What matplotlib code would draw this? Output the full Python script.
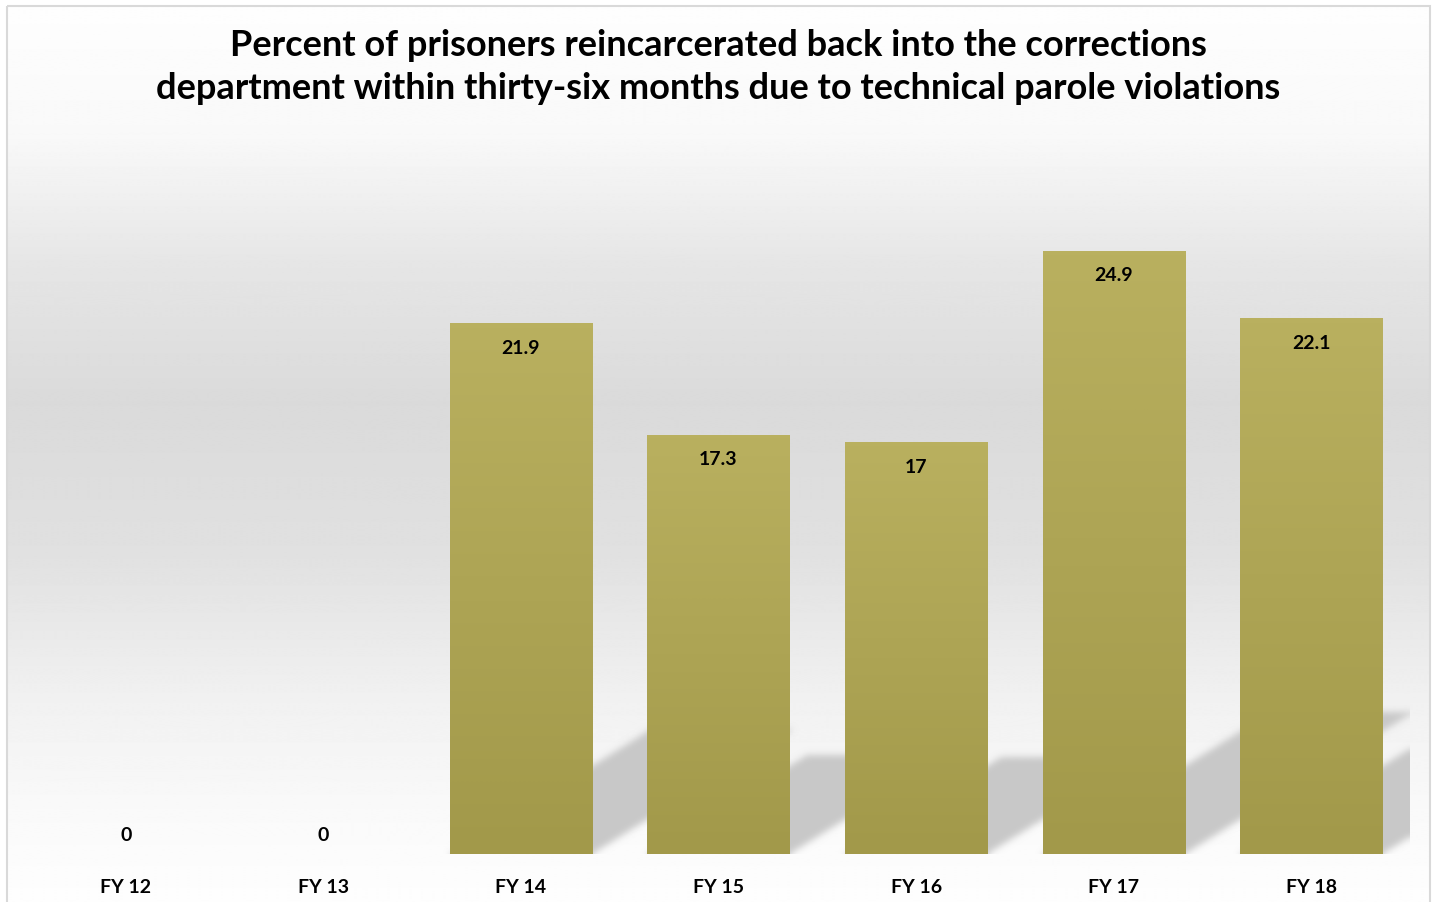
import numpy as np
import matplotlib
matplotlib.use("Agg")
import matplotlib.pyplot as plt
from matplotlib.patches import Rectangle
from matplotlib.colors import LinearSegmentedColormap

categories = ["FY 12", "FY 13", "FY 14", "FY 15", "FY 16", "FY 17", "FY 18"]
values = [0, 0, 21.9, 17.3, 17, 24.9, 22.1]
value_labels = ["0", "0", "21.9", "17.3", "17", "24.9", "22.1"]
title = ("Percent of prisoners reincarcerated back into the corrections\n"
         "department within thirty-six months due to technical parole violations")

W, H = 1437, 903
plt.rcParams['font.family'] = ['Lato', 'DejaVu Sans']
fig = plt.figure(figsize=(W / 100, H / 100), dpi=100)
fig.patch.set_facecolor("white")

# background panel with vertical grey gradient
bg = fig.add_axes([0, 0, 1, 1])
bg.set_xlim(0, W)
bg.set_ylim(H, 0)
bg.axis("off")
stops_y = [0, 130, 260, 400, 550, 700, 820, 903]
stops_v = [0.995, 0.975, 0.90, 0.855, 0.88, 0.945, 0.98, 0.995]
ys = np.arange(H)
vals = np.interp(ys, stops_y, stops_v)
grad = np.repeat(vals[:, None], 2, axis=1)
bg.imshow(grad, cmap="gray", vmin=0, vmax=1, extent=[7, 1430, H, 7],
          aspect="auto", interpolation="bilinear", zorder=0)
bg.add_patch(Rectangle((7, 7), 1423, H + 20, fill=False, edgecolor="#d9d9d9",
                       linewidth=1.5, zorder=1))

# main axes
left, right, base_y, top_y = 27, 1410, 855, 128
ax_w_px, ax_h_px = right - left, base_y - top_y
ax = fig.add_axes([left / W, (H - base_y) / H, ax_w_px / W, ax_h_px / H])
ax.patch.set_alpha(0)
ymax = 30
n = len(categories)
x = np.arange(n)
ax.set_xlim(-0.5, n - 0.5)
ax.set_ylim(0, ymax)
for s in ax.spines.values():
    s.set_visible(False)
ax.set_yticks([])
ax.set_xticks(x)
ax.set_xticklabels(categories, fontsize=14, fontweight="bold")
ax.tick_params(axis="x", length=0, pad=17)

bar_w = 0.719
ppx = ax_w_px / n          # pixels per category unit
ppy = ax_h_px / ymax       # pixels per value unit

# perspective shadow (diagonal upper right), computed on a pixel grid then blurred
sh_scale = 0.235   # vertical scale of the shadow
sh_slope = 0.62    # rise per pixel of horizontal shift
sh_h_px = 200
gx = np.arange(ax_w_px) + 0.5          # px from left of axes
gy = np.arange(sh_h_px) + 0.5          # px above baseline
GX, GY = np.meshgrid(gx, gy)
mask = np.zeros_like(GX)
for xi, v in zip(x, values):
    if v <= 0:
        continue
    x0 = (xi - bar_w / 2 + 0.5) * ppx
    x1 = (xi + bar_w / 2 + 0.5) * ppx
    dy = v * ppy * sh_scale
    shift = GY / sh_slope
    m = (GY <= dy) & (GX >= x0 + shift) & (GX <= x1 + shift)
    mask = np.maximum(mask, m.astype(float))

def blur(a, sigma, axis):
    r = int(3 * sigma)
    k = np.exp(-0.5 * (np.arange(-r, r + 1) / sigma) ** 2)
    k /= k.sum()
    pad = [(0, 0), (0, 0)]
    pad[axis] = (r, r)
    ap = np.pad(a, pad, mode="edge")
    return np.apply_along_axis(lambda t: np.convolve(t, k, mode="valid"), axis, ap)

mask = blur(blur(mask, 3.5, 0), 3.5, 1)
rgba = np.zeros(mask.shape + (4,))
rgba[..., :3] = 0.785
rgba[..., 3] = mask
ax.imshow(rgba, extent=[-0.5, n - 0.5, 0, sh_h_px / ppy], origin="lower",
          aspect="auto", interpolation="bilinear", zorder=1)

# bars with vertical gradient
bar_cmap = LinearSegmentedColormap.from_list("bar", ["#a2994a", "#b9b05f"])
bars = ax.bar(x, values, width=bar_w, color="none", edgecolor="none", zorder=2)
for b, v in zip(bars, values):
    if v <= 0:
        continue
    bx0 = b.get_x()
    im = ax.imshow(np.linspace(1, 0, 100)[:, None].repeat(2, axis=1), cmap=bar_cmap,
                   vmin=0, vmax=1, extent=[bx0, bx0 + b.get_width(), 0, v],
                   aspect="auto", origin="upper", interpolation="bilinear", zorder=3)
    im.set_clip_path(b)
ax.set_xlim(-0.5, n - 0.5)
ax.set_ylim(0, ymax)

# data labels
for xi, v, lab in zip(x, values, value_labels):
    if v > 0:
        ax.annotate(lab, (xi, v), xytext=(0, -24), textcoords="offset pixels",
                    ha="center", va="center", fontsize=14, fontweight="bold", zorder=5)
    else:
        ax.annotate(lab, (xi, 0), xytext=(0, 19), textcoords="offset pixels",
                    ha="center", va="center", fontsize=14, fontweight="bold", zorder=5)

fig.text(718 / W, 1 - 67 / H, title, ha="center", va="center", fontsize=26,
         fontweight="bold", linespacing=1.38)

fig.savefig("out.png", dpi=100)
